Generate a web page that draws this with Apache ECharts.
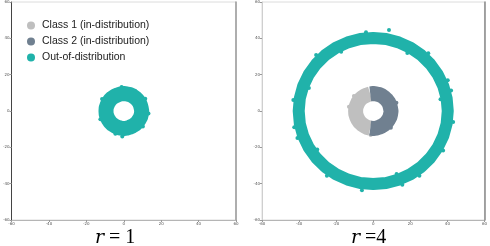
<!DOCTYPE html>
<html>
<head>
<meta charset="utf-8">
<script src="https://cdn.jsdelivr.net/npm/echarts@6/dist/echarts.min.js"></script>
<style>html,body{margin:0;padding:0;background:#fff}#c{width:490px;height:246px}</style>
</head>
<body>
<div id="c"></div>
<script>
// ---- data ----
const axisMin = -60, axisMax = 60, axisStep = 20;
const seriesNames = ['Class 1 (in-distribution)', 'Class 2 (in-distribution)', 'Out-of-distribution'];
const panelLabels = ['= 1', '=4'];

// left panel (r = 1): out-of-distribution ring (centre line of the band)
const oodRingSmall = [[9.6,0.0],[9.3,1.7],[8.9,3.3],[8.3,4.8],[7.3,6.1],[6.1,7.3],[4.8,8.3],[3.3,9.0],[1.7,9.4],[0.0,9.6],
  [-1.6,9.4],[-3.2,8.9],[-4.7,8.2],[-6.1,7.3],[-7.3,6.1],[-8.2,4.8],[-8.9,3.2],[-9.4,1.7],[-9.5,0.0],[-9.4,-1.7],
  [-8.9,-3.3],[-8.2,-4.8],[-7.3,-6.1],[-6.1,-7.3],[-4.8,-8.2],[-3.3,-9.0],[-1.6,-9.4],[0.0,-9.6],[1.7,-9.4],[3.3,-8.9],
  [4.8,-8.2],[6.1,-7.3],[7.3,-6.1],[8.2,-4.8],[9.0,-3.3],[9.4,-1.6],[9.6,0.0],[9.3,1.7],[8.9,3.3]];
// left panel: stray points on the band edges
const oodStraySmall = [[-1.15,13.2],[-12.5,-4.5],[-4.5,-12.5],[11.5,6.7],[10.2,-8.6],[-0.8,-14.0],[-11.6,6.6],[13.2,-1.4]];

// right panel (r = 4): in-distribution half rings
const class2Arc = [[-1.6,9.4],[0.0,9.6],[1.7,9.4],[3.3,9.0],[4.8,8.3],[6.1,7.3],[7.3,6.1],[8.3,4.8],[8.9,3.3],[9.3,1.7],
  [9.6,0.0],[9.4,-1.6],[9.0,-3.3],[8.2,-4.8],[7.3,-6.1],[6.1,-7.3],[4.8,-8.2],[3.3,-8.9],[1.7,-9.4],[0.0,-9.6],[-1.6,-9.4]];
const class1Arc = [[-1.6,9.4],[-3.2,8.9],[-4.7,8.2],[-6.1,7.3],[-7.3,6.1],[-8.2,4.8],[-8.9,3.2],[-9.4,1.7],[-9.5,0.0],
  [-9.4,-1.7],[-8.9,-3.3],[-8.2,-4.8],[-7.3,-6.1],[-6.1,-7.3],[-4.8,-8.2],[-3.3,-9.0],[-1.6,-9.4]];
const class1Stray = [[-13.1,2.3],[-1.4,-13.2],[-10.4,8.2]];
const class2Stray = [[12.5,4.5],[9.5,-9.2]];

// right panel: out-of-distribution big ring (centre line of the band)
const oodRingBig = [[40.2,0.0],[39.6,7.0],[37.8,13.7],[34.8,20.1],[30.8,25.8],[25.8,30.8],[20.1,34.8],[13.7,37.8],[7.0,39.6],
  [0.0,40.2],[-7.0,39.6],[-13.7,37.8],[-20.1,34.8],[-25.8,30.8],[-30.8,25.8],[-34.8,20.1],[-37.8,13.7],[-39.6,7.0],
  [-40.2,0.0],[-39.6,-7.0],[-37.8,-13.7],[-34.8,-20.1],[-30.8,-25.8],[-25.8,-30.8],[-20.1,-34.8],[-13.7,-37.8],[-7.0,-39.6],
  [0.0,-40.2],[7.0,-39.6],[13.7,-37.8],[20.1,-34.8],[25.8,-30.8],[30.8,-25.8],[34.8,-20.1],[37.8,-13.7],[39.6,-7.0],[40.2,0.0],
  [39.6,7.0],[37.8,13.7]];
const oodStrayBig = [[42.0,11.3],[29.7,31.8],[8.5,44.6],[-17.3,32.6],[-30.8,30.8],[-34.7,12.6],[-43.1,6.1],[-40.9,-14.8],
  [-25.0,-35.6],[-6.1,-43.6],[12.6,-34.7],[24.9,-35.6],[37.7,-21.8],[43.1,-6.1],[36.3,6.4],[18.4,31.9],[-30.2,-21.2],
  [-3.9,43.4],[40.2,16.9],[-42.6,-8.9],[15.7,-40.6]];

// ---- styles ----
const TEAL = '#20b2aa', LIGHT = '#bfbfbf', SLATE = '#708090';
const chart = echarts.init(document.getElementById('c'), null, {renderer: 'canvas'});

function xAx(gi) {
  return {gridIndex: gi, type: 'value', min: axisMin, max: axisMax, interval: axisStep,
    axisLine: {show: true, onZero: false, lineStyle: {color: '#b5b5b5', width: 1}},
    axisTick: {show: true, length: 2, lineStyle: {color: '#999'}},
    axisLabel: {fontSize: 4, color: '#555', margin: 2, fontFamily: 'DejaVu Sans'},
    splitLine: {show: false}};
}
function yAx(gi, color) {
  return {gridIndex: gi, type: 'value', min: axisMin, max: axisMax, interval: axisStep,
    axisLine: {show: true, onZero: false, lineStyle: {color: color, width: 1}},
    axisTick: {show: true, length: 2, lineStyle: {color: '#999'}},
    axisLabel: {fontSize: 4, color: '#555', margin: 2, fontFamily: 'DejaVu Sans'},
    splitLine: {show: false}};
}
function yBorder(gi, color) {
  return {gridIndex: gi, type: 'value', position: 'right', min: axisMin, max: axisMax,
    axisLine: {show: true, onZero: false, lineStyle: {color: color, width: 1.5}},
    axisTick: {show: false}, axisLabel: {show: false}, splitLine: {show: false}};
}
function ring(name, data, gi, yi, color, width) {
  return {name: name, type: 'line', xAxisIndex: gi, yAxisIndex: yi, data: data, symbol: 'none',
    silent: true, animation: false, color: color, itemStyle: {color: color},
    lineStyle: {color: color, width: width, cap: 'butt', join: 'round'}};
}
function stray(name, data, gi, yi, color) {
  return {name: name, type: 'scatter', xAxisIndex: gi, yAxisIndex: yi, data: data, symbol: 'circle',
    symbolSize: 4, silent: true, animation: false, color: color, itemStyle: {color: color, opacity: 1}};
}

const labelRich = {
  i: {fontFamily: 'DejaVu Serif', fontStyle: 'italic', fontWeight: 'normal', fontSize: 19, color: '#000'},
  n: {fontFamily: 'Liberation Serif', fontWeight: 'normal', fontSize: 20, color: '#000'}
};

chart.setOption({
  animation: false,
  backgroundColor: '#fff',
  grid: [
    {left: 11, top: 1, width: 225, height: 219, show: true, borderColor: '#dcdcdc', borderWidth: 1},
    {left: 262, top: 1, width: 224, height: 219, show: true, borderColor: '#dcdcdc', borderWidth: 1}
  ],
  xAxis: [xAx(0), xAx(1)],
  yAxis: [yAx(0, '#444'), yAx(1, '#cfcfcf'), yBorder(0, '#999'), yBorder(1, '#888')],
  legend: {
    left: 22, top: 15, orient: 'vertical', icon: 'circle', itemWidth: 8, itemHeight: 8, itemGap: 5,
    data: seriesNames,
    textStyle: {fontSize: 10.5, color: '#222', fontFamily: 'Liberation Sans', padding: [0, 0, 0, 2]}
  },
  title: [
    {text: '{i|r} {n|' + panelLabels[0] + '}', left: 95, top: 228, padding: 0, textStyle: {fontWeight: 'normal', rich: labelRich}},
    {text: '{i|r} {n|' + panelLabels[1] + '}', left: 351, top: 228, padding: 0, textStyle: {fontWeight: 'normal', rich: labelRich}}
  ],
  series: [
    ring(seriesNames[2], oodRingSmall, 0, 0, TEAL, 15),
    stray(seriesNames[2], oodStraySmall, 0, 0, TEAL),
    ring(seriesNames[0], class1Arc, 1, 1, LIGHT, 15),
    stray(seriesNames[0], class1Stray, 1, 1, LIGHT),
    ring(seriesNames[1], class2Arc, 1, 1, SLATE, 15),
    stray(seriesNames[1], class2Stray, 1, 1, SLATE),
    ring(seriesNames[2], oodRingBig, 1, 1, TEAL, 12),
    stray(seriesNames[2], oodStrayBig, 1, 1, TEAL)
  ]
});
</script>
</body>
</html>
